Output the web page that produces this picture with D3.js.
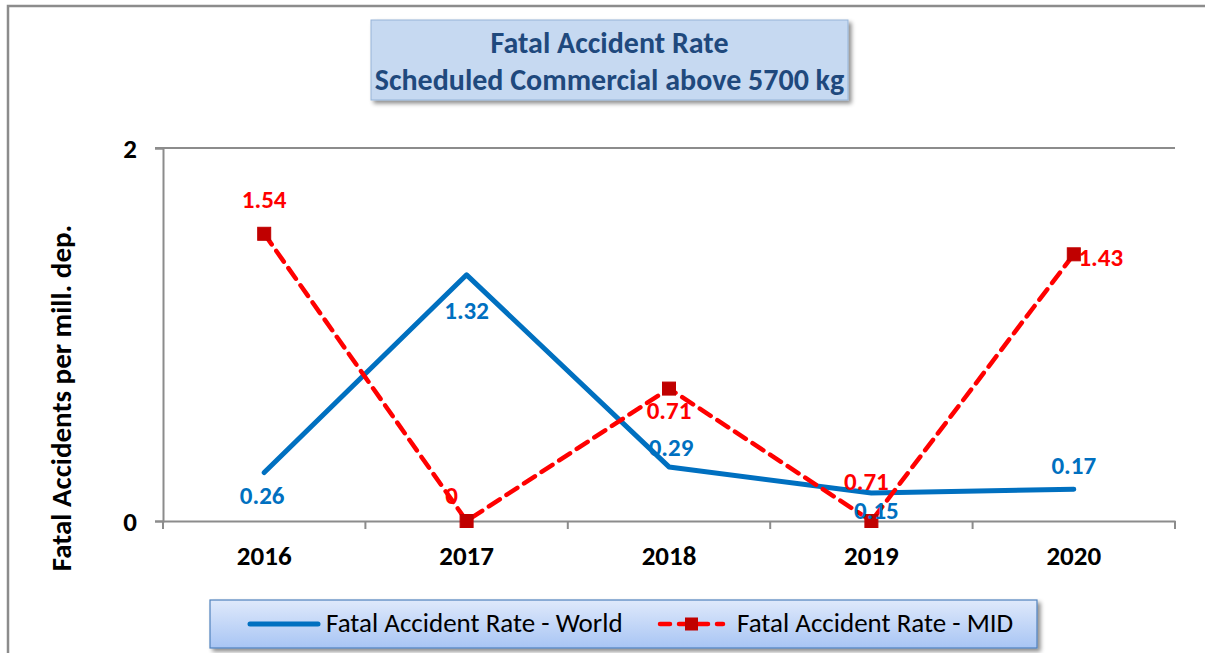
<!DOCTYPE html>
<html><head><meta charset="utf-8">
<script src="https://cdn.jsdelivr.net/npm/d3@7"></script>
<style>
body{margin:0;background:#fff;}
svg{display:block;font-family:Carlito,Calibri,Lato,"Open Sans",sans-serif;}
</style></head>
<body><svg id="c" width="1205" height="653"></svg>
<script>
const years = ["2016","2017","2018","2019","2020"];
const worldValues = [0.26,1.32,0.29,0.15,0.17];
const midValues = [1.54,0,0.71,0,1.43];
const worldLabels = ["0.26","1.32","0.29","0.15","0.17"];
const midLabels = ["1.54","0","0.71","0.71","1.43"];
const yTicks = [0,2];
const titleLines = ["Fatal Accident Rate","Scheduled Commercial above 5700 kg"];
const seriesNames = ["Fatal Accident Rate - World","Fatal Accident Rate - MID"];

(function(){
const svg = d3.select("#c");
const defs = svg.append("defs");
const f = defs.append("filter").attr("id","sh").attr("x","-5%").attr("y","-20%").attr("width","115%").attr("height","150%");
f.append("feDropShadow").attr("dx",3).attr("dy",3).attr("stdDeviation",2).attr("flood-color","#000").attr("flood-opacity",0.45);
const g1 = defs.append("linearGradient").attr("id","lg").attr("x1",0).attr("y1",0).attr("x2",0).attr("y2",1);
g1.append("stop").attr("offset","0%").attr("stop-color","#dfe9fb");
g1.append("stop").attr("offset","100%").attr("stop-color","#a8c5f4");

svg.append("path").attr("d","M8,653 V6 H1205").attr("fill","none").attr("stroke","#8c8c8c").attr("stroke-width",2.5);

svg.append("rect").attr("x",371).attr("y",20).attr("width",477).attr("height",80)
  .attr("fill","#c6d9f1").attr("stroke","#95b3d7").attr("stroke-width",1).attr("filter","url(#sh)");
svg.append("text").attr("x",609.5).attr("y",53).attr("text-anchor","middle")
  .attr("font-size",30).attr("font-weight","bold").attr("fill","#1f497d").text(titleLines[0]);
svg.append("text").attr("x",609.5).attr("y",90).attr("text-anchor","middle")
  .attr("font-size",30).attr("font-weight","bold").attr("fill","#1f497d").text(titleLines[1]);

const pL=163, pR=1175, pT=148, pB=521;
const x = d3.scaleBand().domain(years).range([pL,pR]);
const y = d3.scaleLinear().domain([0,2]).range([pB,pT]);
const cx = d=>x(d)+x.bandwidth()/2;

svg.append("g").selectAll("line").data(yTicks.filter(t=>t>0)).join("line")
  .attr("x1",pL-8).attr("x2",pR).attr("y1",d=>y(d)).attr("y2",d=>y(d))
  .attr("stroke","#8c8c8c").attr("stroke-width",2);

const ya = svg.append("g").attr("transform",`translate(${pL},0)`)
  .call(d3.axisLeft(y).tickValues(yTicks).tickSize(8).tickPadding(18).tickFormat(d3.format("d")));
ya.attr("font-family",null);
ya.select(".domain").attr("stroke","#8c8c8c").attr("stroke-width",2);
ya.selectAll(".tick line").attr("stroke","#8c8c8c").attr("stroke-width",2);
ya.selectAll(".tick text").attr("font-size",27).attr("font-weight","bold").attr("fill","#000").attr("dy","0.34em");

const xa = svg.append("g").attr("transform",`translate(0,${pB})`)
  .call(d3.axisBottom(x).tickSize(0));
xa.attr("font-family",null);
xa.select(".domain").attr("stroke","#8c8c8c").attr("stroke-width",2);
xa.selectAll(".tick text").attr("font-size",27).attr("font-weight","bold").attr("fill","#000")
  .attr("dy",null).attr("y",44);
const bounds = years.map(d=>x(d)).concat([pR]);
svg.append("g").selectAll("line").data(bounds).join("line")
  .attr("x1",d=>d).attr("x2",d=>d).attr("y1",pB).attr("y2",pB+8)
  .attr("stroke","#8c8c8c").attr("stroke-width",2);

svg.append("text").attr("transform","translate(71,398) rotate(-90)").attr("text-anchor","middle")
  .attr("font-size",29).attr("font-weight","bold").attr("fill","#000").text("Fatal Accidents per mill. dep.");

const line = d3.line().x((d,i)=>cx(years[i])).y(d=>y(d));

svg.append("path").datum(worldValues).attr("d",line).attr("fill","none")
  .attr("stroke","#0070c0").attr("stroke-width",5).attr("stroke-linejoin","round").attr("stroke-linecap","round");
svg.append("path").datum(midValues).attr("d",line).attr("fill","none")
  .attr("stroke","#ff0000").attr("stroke-width",4.5).attr("stroke-dasharray","13,8").attr("stroke-linecap","round");
svg.append("g").selectAll("rect").data(midValues).join("rect")
  .attr("x",(d,i)=>cx(years[i])-6.5).attr("y",d=>y(d)-6.5).attr("width",13).attr("height",13)
  .attr("fill","#c00000").attr("stroke","#c00000").attr("stroke-width",1);

const wOff = [[-2,31],[0,44],[2,-11],[5,26],[0,-15]];
svg.append("g").selectAll("text").data(worldValues).join("text")
  .attr("x",(d,i)=>cx(years[i])+wOff[i][0]).attr("y",(d,i)=>y(d)+wOff[i][1])
  .attr("text-anchor","middle").attr("font-size",25).attr("font-weight","bold").attr("fill","#0070c0")
  .text((d,i)=>worldLabels[i]);
const mOff = [[0,-26],[-15,-17],[0,30],[-5,-31],[27,12]];
svg.append("g").selectAll("text").data(midValues).join("text")
  .attr("x",(d,i)=>cx(years[i])+mOff[i][0]).attr("y",(d,i)=>y(d)+mOff[i][1])
  .attr("text-anchor","middle").attr("font-size",25).attr("font-weight","bold").attr("fill","#ff0000")
  .text((d,i)=>midLabels[i]);

svg.append("rect").attr("x",210).attr("y",600).attr("width",827).attr("height",48)
  .attr("fill","url(#lg)").attr("stroke","#4f81bd").attr("stroke-width",1.2).attr("filter","url(#sh)");
const ly = 624;
svg.append("line").attr("x1",250).attr("x2",318).attr("y1",ly).attr("y2",ly)
  .attr("stroke","#0070c0").attr("stroke-width",5).attr("stroke-linecap","round");
svg.append("text").attr("x",326).attr("y",632).attr("font-size",27).attr("fill","#000").text(seriesNames[0]);
svg.append("line").attr("x1",660).attr("x2",723).attr("y1",ly).attr("y2",ly)
  .attr("stroke","#ff0000").attr("stroke-width",4.5).attr("stroke-dasharray","10,9").attr("stroke-linecap","round");
svg.append("rect").attr("x",685).attr("y",ly-6.5).attr("width",13).attr("height",13).attr("fill","#c00000");
svg.append("text").attr("x",737).attr("y",632).attr("font-size",27).attr("fill","#000").text(seriesNames[1]);
})();
</script></body></html>
